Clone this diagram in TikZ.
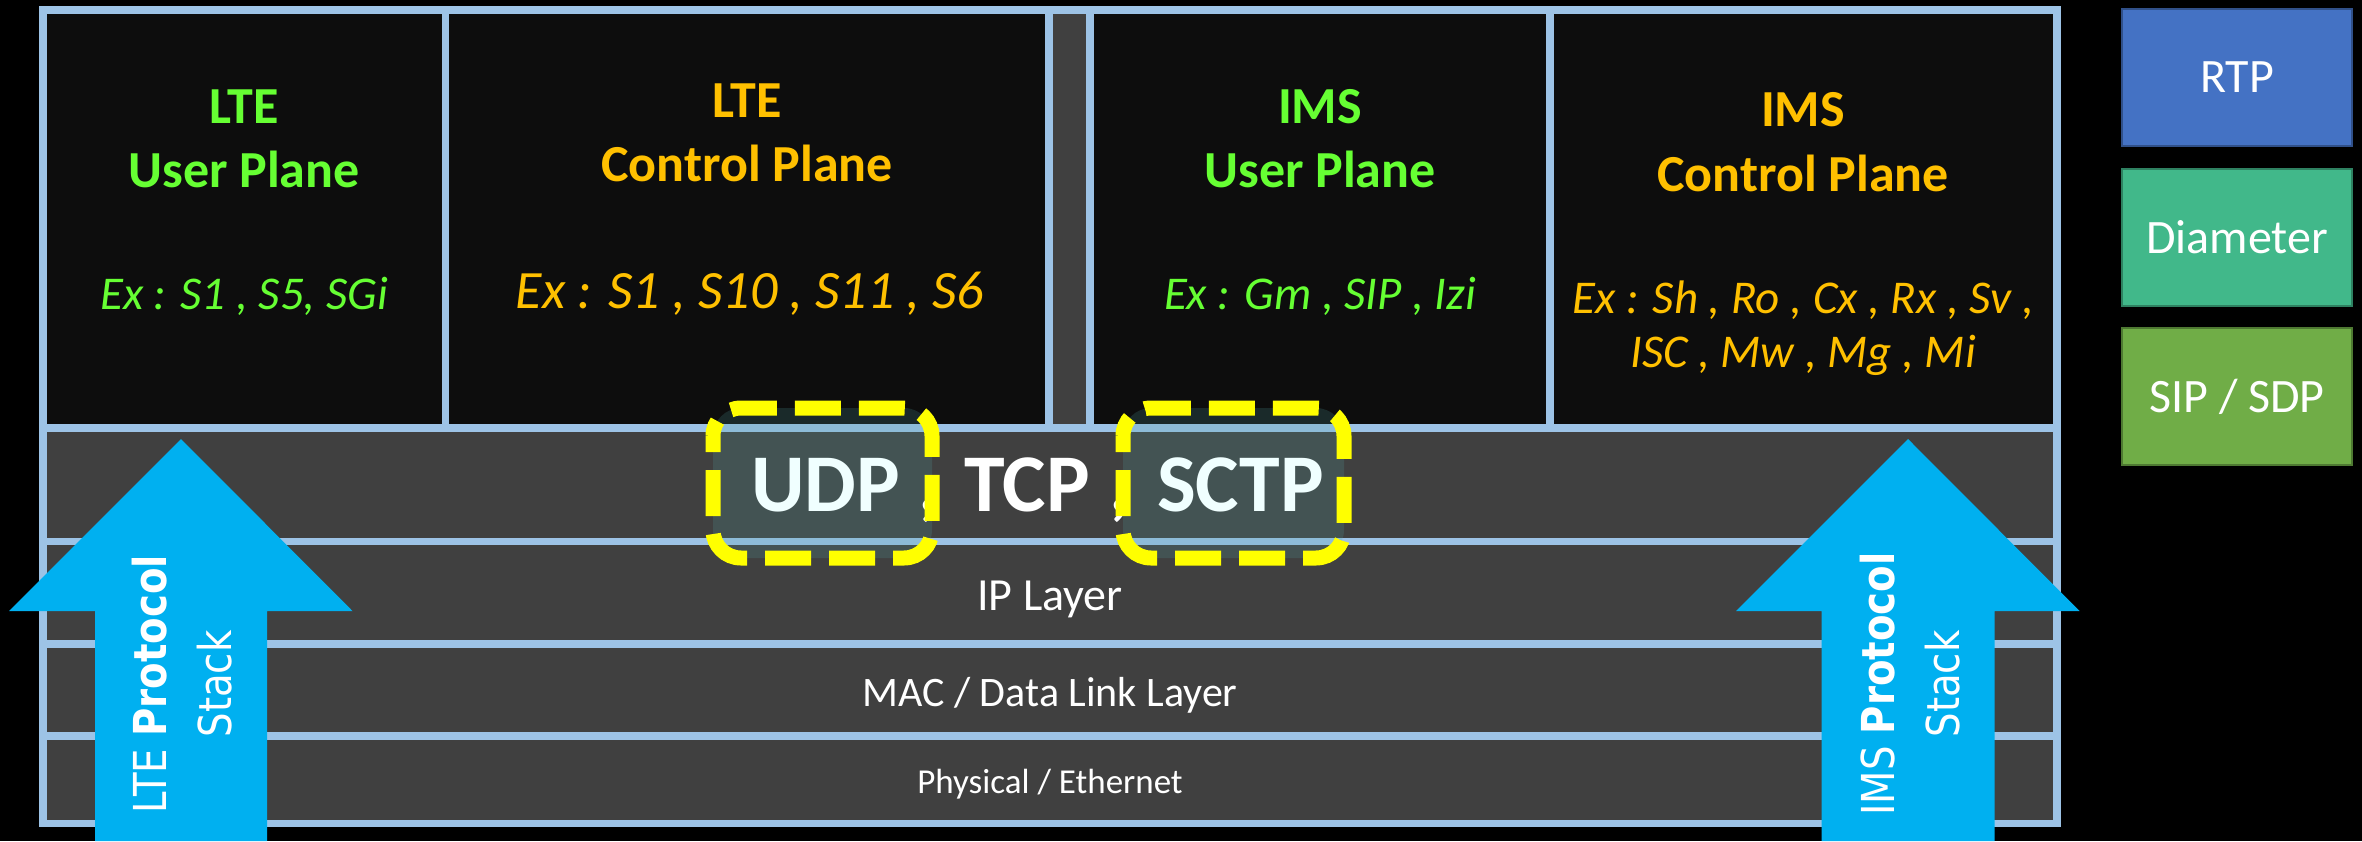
\documentclass[tikz,border=0pt]{standalone}
\usepackage{fontspec}
\setmainfont{Carlito}
\newfontfamily\stackfont{DejaVu Sans}

\definecolor{frameblue}{HTML}{9DC3E6}
\definecolor{boxblack}{HTML}{0D0D0D}
\definecolor{layergray}{HTML}{404040}
\definecolor{upgreen}{HTML}{66FF33}
\definecolor{cporange}{HTML}{FFC000}
\definecolor{rtpblue}{HTML}{4472C4}
\definecolor{diamgreen}{HTML}{41B88A}
\definecolor{sipgreen}{HTML}{70AD47}
\definecolor{stackcyan}{HTML}{00B0F0}
\definecolor{hiyellow}{HTML}{FFFF00}
\definecolor{tealfill}{HTML}{50A0A0}
\definecolor{azure}{HTML}{F0FFFF}

\tikzset{
  cell/.style={draw=frameblue, line width=7.5pt},
  plane/.style={cell, fill=boxblack},
  layer/.style={cell, fill=layergray},
  hlfill/.style={fill=tealfill, fill opacity=0.2, rounded corners=28pt},
  hlline/.style={draw=hiyellow, line width=15pt, dash pattern=on 46pt off 18pt,
                 dash phase=30pt, rounded corners=28pt},
  title/.style={anchor=base, inner sep=0pt, font=\fontsize{52}{62}\selectfont\bfseries},
  exs/.style={anchor=base, inner sep=0pt, font=\fontsize{47}{57}\selectfont\itshape},
  layertext/.style={anchor=base, inner sep=0pt, text=white},
  transport/.style={anchor=base, inner sep=0pt, font=\fontsize{82}{98}\selectfont\bfseries},
  proto/.style={minimum width=230pt, minimum height=137pt, inner sep=0pt,
                line width=1.5pt, text=white, font=\fontsize{48}{58}\selectfont},
  stacktext/.style={rotate=90, xscale=0.92, yscale=1.08, align=center, inner sep=0pt,
                    text=white, font=\stackfont\fontsize{42}{60}\selectfont},
  stackarrow/.style={fill=stackcyan}
}

\begin{document}
\begin{tikzpicture}[x=1pt, y=-1pt]
  % canvas
  \fill[black] (0,0) rectangle (2362,841);
  \useasboundingbox (0,0) rectangle (2362,841);

  % outer frame and gap column
  \draw[layer] (43,10) rectangle (2057,823.5);
  \draw[layer] (1049,10) rectangle (1090,428);

  % plane boxes
  \draw[plane] (43,10) rectangle (445.5,428);
  \draw[plane] (445.5,10) rectangle (1049,428);
  \draw[plane] (1090,10) rectangle (1550,428);
  \draw[plane] (1550,10) rectangle (2057,428);

  % stack layers
  \draw[layer] (43,428) rectangle (2057,541.7);
  \draw[layer] (43,541.7) rectangle (2057,644);
  \draw[layer] (43,644) rectangle (2057,736);
  \draw[layer] (43,736) rectangle (2057,823.5);

  % plane labels
  \node[title, text=upgreen] (lteupA) at (244,123) {LTE};
  \node[title, text=upgreen] (lteupB) at (244,187) {User Plane};
  \node[exs, text=upgreen] (lteupC) at (244,309) {Ex : S1 , S5, SGi};

  \node[title, text=cporange] (ltecpA) at (747,117) {LTE};
  \node[title, text=cporange] (ltecpB) at (747,181) {Control Plane};
  \node[exs, text=cporange, font=\fontsize{54}{64}\selectfont\itshape] (ltecpC) at (750,308)
       {Ex : S1 , S10 , S11 , S6};

  \node[title, text=upgreen] (imsupA) at (1320,123) {IMS};
  \node[title, text=upgreen] (imsupB) at (1320,187) {User Plane};
  \node[exs, text=upgreen] (imsupC) at (1320,309) {Ex : Gm , SIP , Izi};

  \node[title, text=cporange] (imscpA) at (1803,126) {IMS};
  \node[title, text=cporange] (imscpB) at (1803,191) {Control Plane};
  \node[exs, text=cporange] (imscpC) at (1803,313) {Ex : Sh , Ro , Cx , Rx , Sv ,};
  \node[exs, text=cporange] (imscpD) at (1803,367) {ISC , Mw , Mg , Mi};

  % layer labels
  \node[layertext, font=\fontsize{46}{55}\selectfont] (ip) at (1050,610) {IP Layer};
  \node[layertext, font=\fontsize{42}{50}\selectfont] (mac) at (1050,706) {MAC / Data Link Layer};
  \node[layertext, font=\fontsize{35}{42}\selectfont] (phy) at (1050,793) {Physical / Ethernet};

  % transport protocols
  \path[hlfill] (713,408) rectangle (932,558);
  \path[hlfill] (1123,408) rectangle (1344,558);
  \node[transport, text=azure] (udp) at (825.5,511.5) {UDP};
  \node[transport, text=white] (commaA) at (929,511.5) {,};
  \node[transport, text=white] (tcp) at (1027,511.5) {TCP};
  \node[transport, text=white] (commaB) at (1120,511.5) {,};
  \node[transport, text=azure] (sctp) at (1240.5,511.5) {SCTP};
  \draw[hlline] (713,408) rectangle (932,558);
  \draw[hlline] (1123,408) rectangle (1344,558);

  % protocol legend
  \node[proto, fill=rtpblue, draw=rtpblue!70!black] (rtp) at (2237,77.5) {RTP};
  \node[proto, fill=diamgreen, draw=diamgreen!70!black] (diam) at (2237,237.5) {Diameter};
  \node[proto, fill=sipgreen, draw=sipgreen!70!black] (sip) at (2237,396.5) {SIP / SDP};

  % stack arrows
  \fill[stackarrow] (181,439) -- (352.5,611) -- (267,611) -- (267,841)
        -- (95,841) -- (95,611) -- (9,611) -- cycle;
  \fill[stackarrow] (1908,439) -- (2079.5,611) -- (1994.5,611) -- (1994.5,841)
        -- (1821.5,841) -- (1821.5,611) -- (1736,611) -- cycle;
  \node[stacktext] (lteStack) at (182,684) {LTE \textbf{Protocol}\\Stack};
  \node[stacktext] (imsStack) at (1910,684) {IMS \textbf{Protocol}\\Stack};
\end{tikzpicture}
\end{document}
